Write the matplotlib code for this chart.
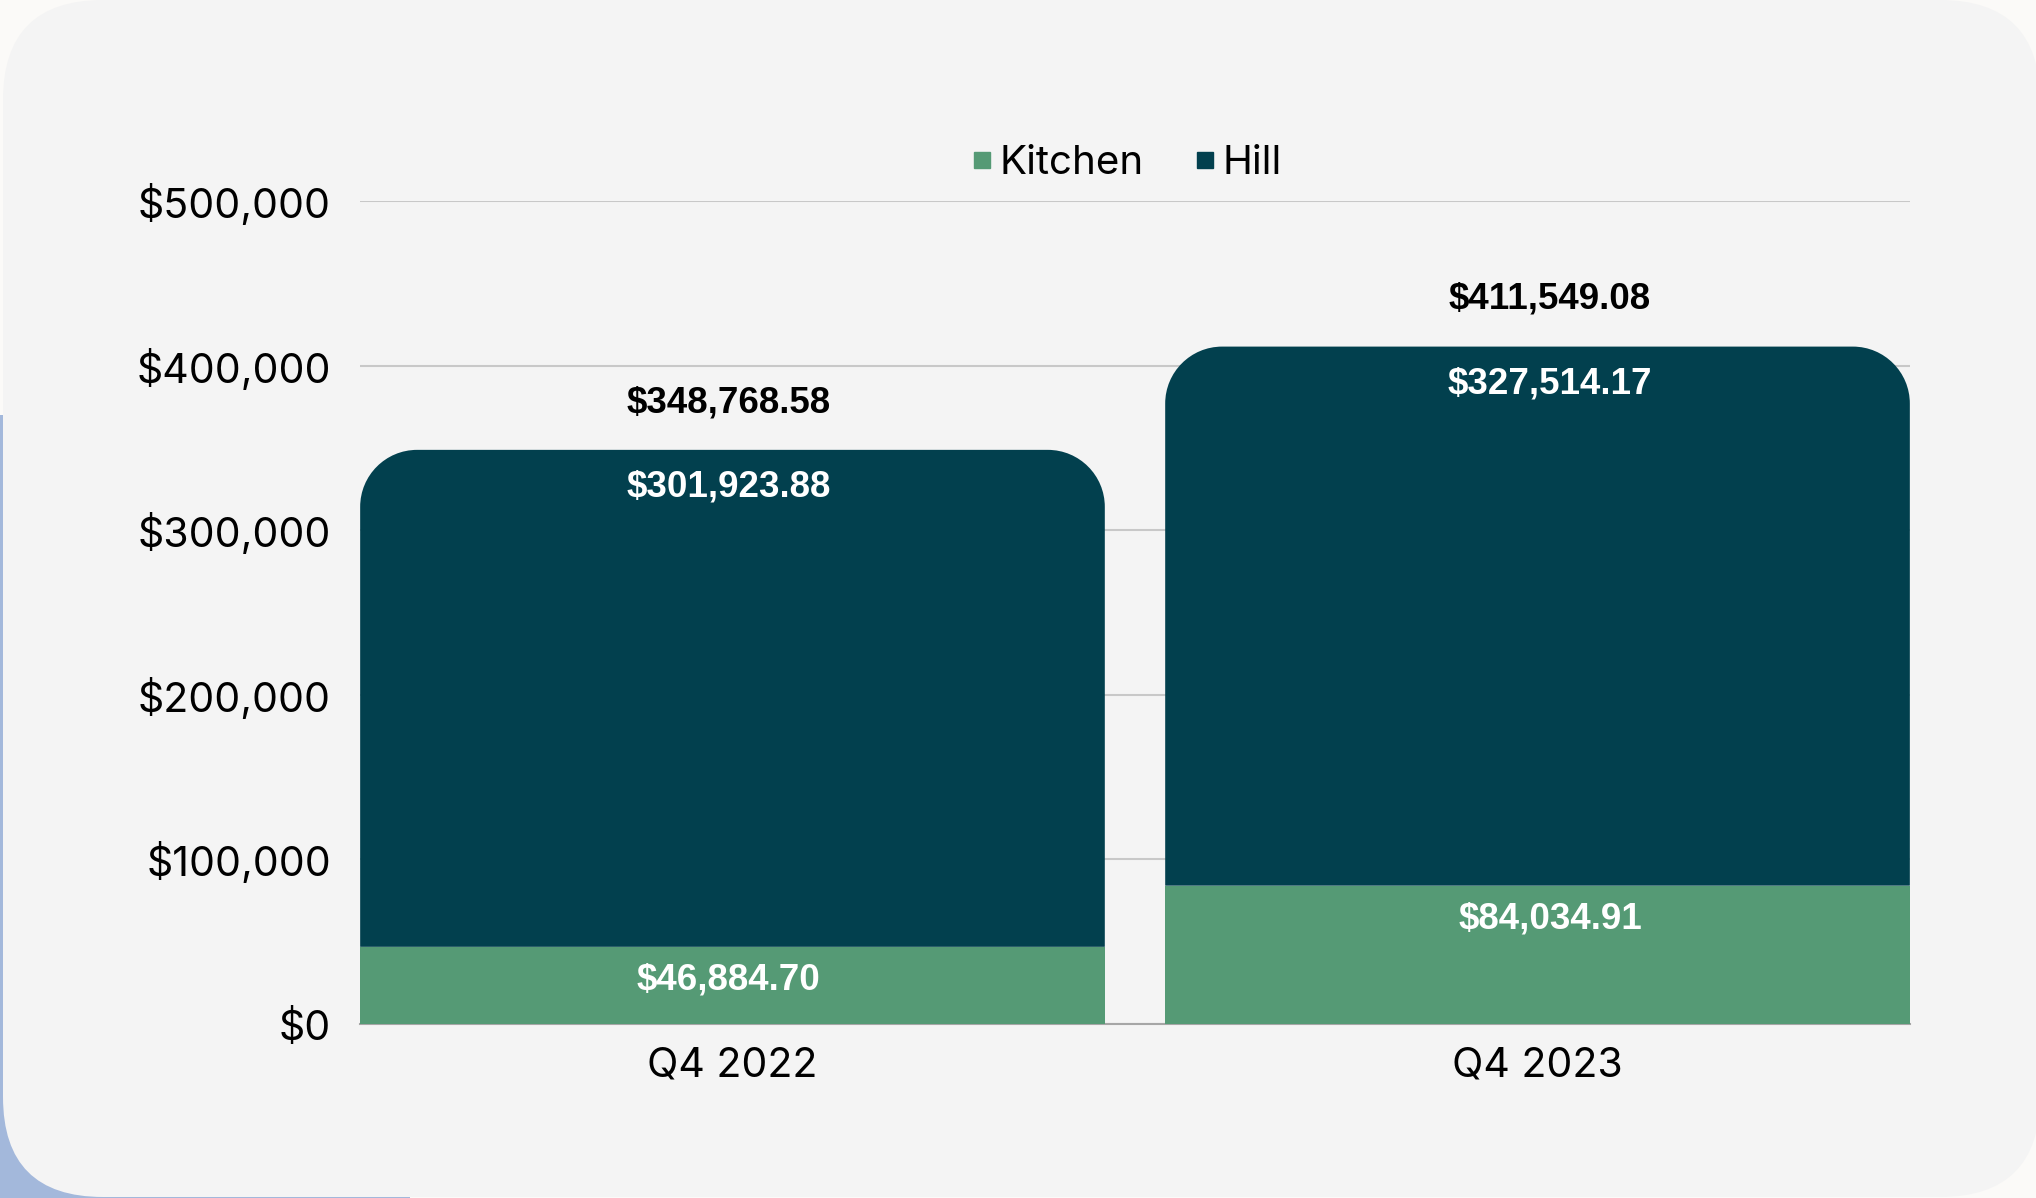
import matplotlib.pyplot as plt
from matplotlib.patches import FancyBboxPatch, Rectangle, PathPatch
from matplotlib.path import Path
from matplotlib.lines import Line2D
from matplotlib.ticker import FuncFormatter

# data
quarters = ["Q4 2022", "Q4 2023"]
kitchen = [46884.70, 84034.91]
hill = [301923.88, 327514.17]
totals = [348768.58, 411549.08]
y_ticks = [0, 100000, 200000, 300000, 400000, 500000]

kitchen_color = "#559A75"
hill_color = "#02404E"

W, H = 2036, 1198
fig = plt.figure(figsize=(W / 100, H / 100), dpi=100)
fig.patch.set_facecolor("#FBFAF8")

# background card (pixel coordinates)
bg = fig.add_axes([0, 0, 1, 1], zorder=0)
bg.set_xlim(0, W)
bg.set_ylim(H, 0)
bg.axis("off")
bg.add_patch(Rectangle((0, 415), 410, H - 415, color="#A3B8DB", lw=0))
bg.add_patch(FancyBboxPatch((3, 0), W + 4 - 3, H - 1,
                            boxstyle="round,pad=0,rounding_size=100",
                            fc="#F4F4F4", ec="none"))

# main axes
ax = fig.add_axes([360 / W, 1 - 1024 / H, (1910 - 360) / W, (1024 - 201) / H], zorder=1)
ax.set_facecolor("none")

x = range(len(quarters))
bar_w = 0.925
ax.bar(x, kitchen, width=bar_w, color=kitchen_color, zorder=3)
hill_bars = ax.bar(x, hill, width=bar_w, bottom=kitchen, color=hill_color, zorder=3)

ax.set_xlim(-0.4627, 1.4627)
ax.set_ylim(0, 500000)
ax.set_yticks(y_ticks)
ax.yaxis.set_major_formatter(FuncFormatter(lambda v, p: "${:,.0f}".format(v)))
ax.set_xticks(list(x))
ax.set_xticklabels(quarters)

for s in ["top", "right", "left"]:
    ax.spines[s].set_visible(False)
ax.spines["bottom"].set_color("#A6A6A6")
ax.spines["bottom"].set_linewidth(1.5)
ax.grid(axis="y", color="#C8C8C8", lw=1.5, zorder=0)
ax.set_axisbelow(True)
ax.tick_params(axis="both", length=0, labelsize=29.5)
ax.tick_params(axis="y", pad=21)
ax.tick_params(axis="x", pad=16)
for lab in ax.get_xticklabels() + ax.get_yticklabels():
    lab.set_fontfamily("Inter")

# round the top corners of the Hill segments
fig.canvas.draw()
px_per_x = ax.transData.transform((1, 0))[0] - ax.transData.transform((0, 0))[0]
px_per_y = ax.transData.transform((0, 100000))[1] - ax.transData.transform((0, 0))[1]
rx = 57 / px_per_x
ry = 57 * 100000 / px_per_y
k = 0.5523
for b in hill_bars:
    x0, y0 = b.get_x(), b.get_y()
    x1, y1 = x0 + b.get_width(), y0 + b.get_height()
    verts = [(x0, y0), (x1, y0), (x1, y1 - ry),
             (x1, y1 - ry + k * ry), (x1 - rx + k * rx, y1), (x1 - rx, y1),
             (x0 + rx, y1),
             (x0 + rx - k * rx, y1), (x0, y1 - ry + k * ry), (x0, y1 - ry),
             (x0, y0)]
    codes = [Path.MOVETO, Path.LINETO, Path.LINETO,
             Path.CURVE4, Path.CURVE4, Path.CURVE4,
             Path.LINETO,
             Path.CURVE4, Path.CURVE4, Path.CURVE4,
             Path.CLOSEPOLY]
    b.set_visible(False)
    ax.add_patch(PathPatch(Path(verts, codes), fc=hill_color, ec="none", zorder=3))

# data labels (labels sit a little off the bar centres in the original)
lab_font = dict(family="Liberation Sans", weight="bold", fontsize=26.5,
                ha="center", va="center", zorder=5)
dx = [-3, 9]
for i in x:
    ax.annotate("${:,.2f}".format(kitchen[i]), (i, kitchen[i]), xytext=(dx[i], -24),
                textcoords="offset points", color="white", **lab_font)
    ax.annotate("${:,.2f}".format(hill[i]), (i, kitchen[i] + hill[i]), xytext=(dx[i], -27),
                textcoords="offset points", color="white", **lab_font)
    ax.annotate("${:,.2f}".format(totals[i]), (i, totals[i]), xytext=(dx[i], 34),
                textcoords="offset points", color="black", **lab_font)

# legend
handles = [Line2D([], [], marker="s", ls="none", ms=11, color=kitchen_color),
           Line2D([], [], marker="s", ls="none", ms=11, color=hill_color)]
fig.legend(handles, ["Kitchen", "Hill"], loc="center", ncol=2,
           bbox_to_anchor=(1126 / W, 1 - 164 / H), frameon=False,
           prop=dict(family="Inter", size=29), handlelength=0.6,
           handletextpad=0.14, columnspacing=1.21)

plt.savefig("out.png", dpi=100, facecolor=fig.get_facecolor())
